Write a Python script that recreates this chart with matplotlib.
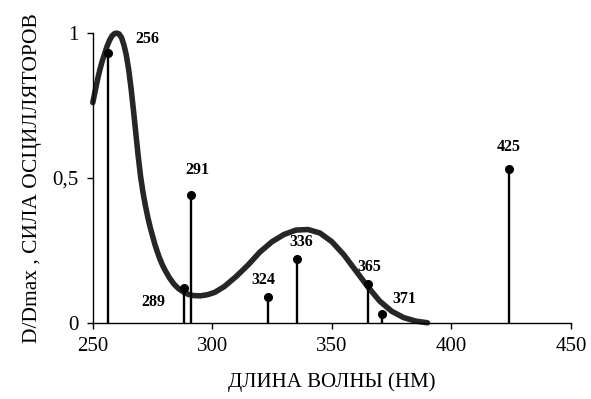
import matplotlib
matplotlib.use("Agg")
import matplotlib.pyplot as plt

# Absorption curve
curve_nm = [250, 251, 252, 253, 254, 255, 256, 257, 258, 259, 260, 261, 262, 263, 264,
            265, 266, 267, 268, 269, 270, 271, 272, 273, 274, 275, 276, 277, 278, 279,
            280, 282, 284, 286, 288, 290, 292, 295, 298, 301, 305, 310, 315, 320, 325,
            330, 335, 340, 345, 350, 355, 360, 365, 370, 375, 380, 385, 390]
curve_val = [0.76, 0.80, 0.84, 0.875, 0.905, 0.93, 0.955, 0.975, 0.99, 0.998, 1.0, 0.997,
             0.985, 0.96, 0.925, 0.875, 0.81, 0.735, 0.655, 0.575, 0.505, 0.45, 0.405,
             0.365, 0.33, 0.30, 0.27, 0.245, 0.222, 0.202,
             0.185, 0.156, 0.133, 0.117, 0.106, 0.098, 0.094, 0.093, 0.097, 0.105,
             0.125, 0.16, 0.20, 0.245, 0.28, 0.305, 0.32, 0.322, 0.31, 0.28, 0.235,
             0.18, 0.125, 0.075, 0.04, 0.018, 0.006, 0.0]

# Oscillator strengths (stems)
stem_nm = [256.5, 288, 291, 323.5, 335.5, 365, 371, 424]
stem_val = [0.933, 0.12, 0.44, 0.09, 0.22, 0.134, 0.03, 0.53]
stem_labels = ["256", "289", "291", "324", "336", "365", "371", "425"]

x_ticks = [250, 300, 350, 400, 450]
y_ticks = [0, 0.5, 1]
y_tick_labels = ["0", "0,5", "1"]

# label offsets in points (style only)
label_offsets = [(28, 10), (-22, -10), (5, 18), (-4, 12), (3, 12), (1, 12), (16, 11), (0, 16)]

fig = plt.figure(figsize=(5.91, 3.99), dpi=100)
ax = fig.add_axes([0.157, 0.191, 0.809, 0.726])

serif = ["Liberation Serif", "DejaVu Serif"]

ax.plot(curve_nm, curve_val, color="#262626", lw=4.0, solid_capstyle="round",
        solid_joinstyle="round", clip_on=False, zorder=2)
for x, v in zip(stem_nm, stem_val):
    ax.plot([x, x], [0, v], color="black", lw=1.7, zorder=3)
ax.plot(stem_nm, stem_val, "o", color="black", ms=5.5, zorder=4)

for x, v, lab, off in zip(stem_nm, stem_val, stem_labels, label_offsets):
    ax.annotate(lab, (x, v), xytext=off, textcoords="offset points",
                ha="center", va="center", fontsize=11.5, fontweight="bold",
                family=serif)

ax.set_xlim(250, 450)
ax.set_ylim(0, 1)
ax.set_xticks(x_ticks)
ax.set_yticks(y_ticks)
ax.set_yticklabels(y_tick_labels)
for s in ["top", "right"]:
    ax.spines[s].set_visible(False)
for s in ["left", "bottom"]:
    ax.spines[s].set_linewidth(1.0)
ax.tick_params(direction="out", length=4, width=1.0, labelsize=15, pad=6)
for t in ax.get_xticklabels() + ax.get_yticklabels():
    t.set_family(serif)

ax.set_xlabel("ДЛИНА ВОЛНЫ (НМ)", fontsize=15, family=serif, labelpad=12)
ax.set_ylabel("D/Dmax , СИЛА ОСЦИЛЛЯТОРОВ", fontsize=15.5, family=serif, labelpad=8)

fig.savefig("out.png", dpi=100)
